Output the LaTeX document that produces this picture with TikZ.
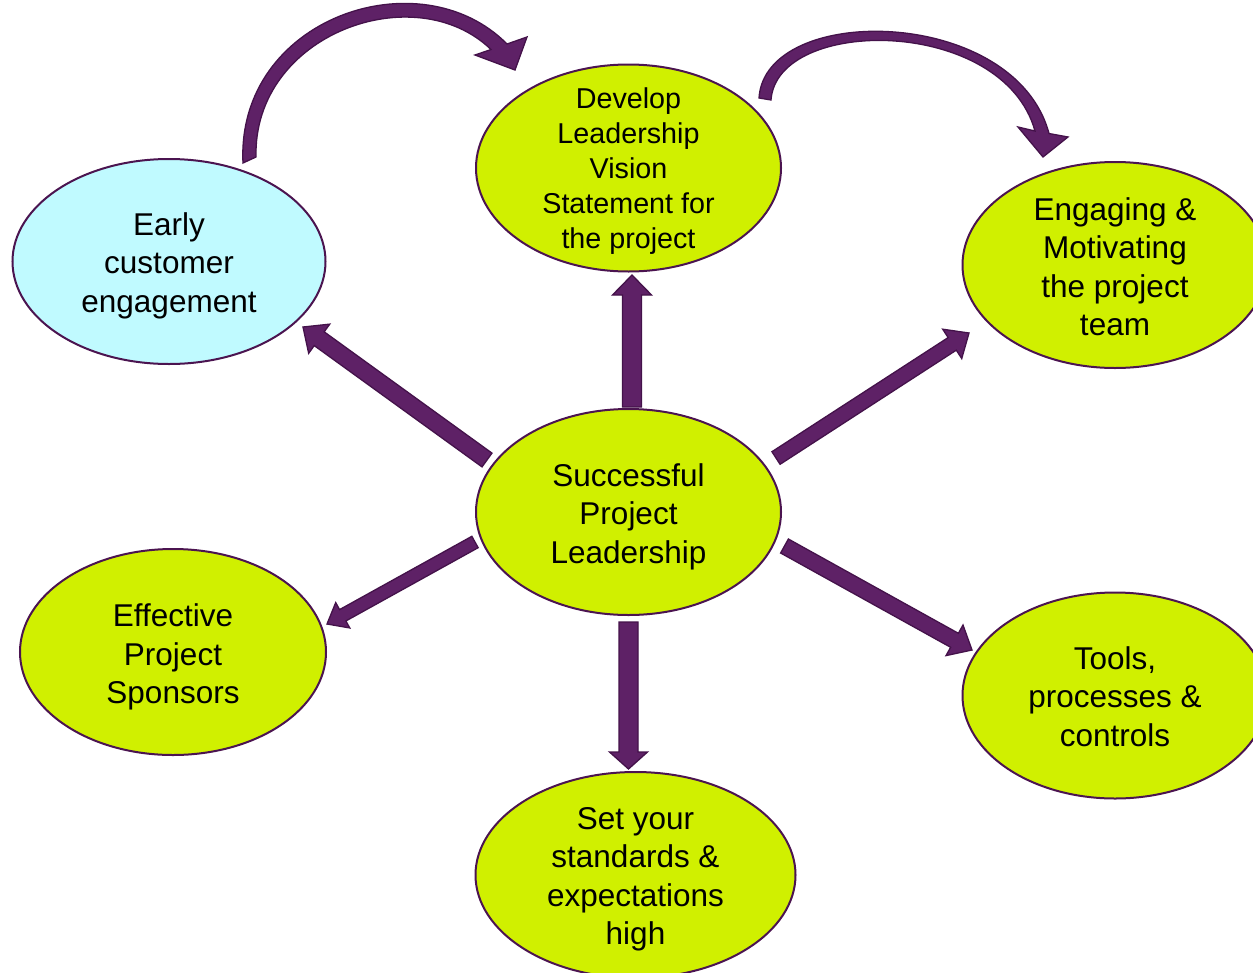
\documentclass[tikz,border=0pt]{standalone}
\usepackage{fontspec}
\setmainfont{Liberation Sans}
\usetikzlibrary{shapes.geometric,calc}
\definecolor{limefill}{RGB}{208,240,0}
\definecolor{skyfill}{RGB}{192,250,255}
\definecolor{ovaledge}{RGB}{75,20,80}
\definecolor{arrfill}{RGB}{94,33,102}
\definecolor{arredge}{RGB}{68,18,74}
\tikzset{
  oval/.style={ellipse, draw=ovaledge, line width=2pt, fill=limefill, inner sep=0pt,
    minimum width=305pt, minimum height=206pt},
  bluoval/.style={oval, fill=skyfill},
  ovaltext/.style={align=center, text=black, inner sep=0pt, font=\fontsize{31.5}{38.5}\selectfont},
  blockarrsty/.style={fill=arrfill, draw=arredge, line width=1.3pt, line join=miter},
}
\newcommand\blockarr[5]{%
  \coordinate (hb) at ($(#2)!#5!(#1)$);
  \draw[blockarrsty] ($(#1)!#3!90:(#2)$) -- ($(hb)!#3!90:(#2)$) -- ($(hb)!#4!90:(#2)$)
    -- (#2) -- ($(hb)!#4!-90:(#2)$) -- ($(hb)!#3!-90:(#2)$) -- ($(#1)!#3!-90:(#2)$) -- cycle;}
\begin{document}
\begin{tikzpicture}[x=1pt,y=-1pt]
\useasboundingbox (0,0) rectangle (1253,972);
\clip (0,0) rectangle (1253,972);
\fill[white] (0,0) rectangle (1253,972);
% nodes
\node[oval] (center) at (628.5,512) {};
\node[ovaltext, yshift=-4.5pt] (center-t) at (center) {Successful\\Project\\Leadership};
\node[oval, minimum height=207pt] (vision) at (628.5,168) {};
\node[ovaltext, yshift=-3pt, font=\fontsize{28.7}{35.2}\selectfont] (vision-t) at (vision) {Develop\\Leadership\\Vision\\Statement for\\the project};
\node[bluoval, minimum width=313pt, minimum height=205pt] (early) at (169,261.5) {};
\node[ovaltext, yshift=-4pt] (early-t) at (early) {Early\\customer\\engagement};
\node[oval] (engage) at (1115,265) {};
\node[ovaltext, yshift=-1.5pt] (engage-t) at (engage) {Engaging \&\\Motivating\\the project\\team};
\node[oval, minimum width=306pt] (sponsor) at (173,652) {};
\node[ovaltext, yshift=-5pt] (sponsor-t) at (sponsor) {Effective\\Project\\Sponsors};
\node[oval] (tools) at (1115,695.5) {};
\node[ovaltext, yshift=-1pt] (tools-t) at (tools) {Tools,\\processes \&\\controls};
\node[oval, minimum width=320pt] (standards) at (635.5,875) {};
\node[ovaltext, yshift=-4.5pt] (standards-t) at (standards) {Set your\\standards \&\\expectations\\high};
% block arrow end points
\coordinate (aUs) at (632,407);   \coordinate (aUe) at (632,275);
\coordinate (aDs) at (628.5,622); \coordinate (aDe) at (628.5,769);
\coordinate (aULs) at (487,460);  \coordinate (aULe) at (303,327);
\coordinate (aURs) at (776,458);  \coordinate (aURe) at (969,333);
\coordinate (aLLs) at (475,542);  \coordinate (aLLe) at (327,624);
\coordinate (aLRs) at (784.5,546);\coordinate (aLRe) at (972,650);
\blockarr{aUs}{aUe}{9.5pt}{19.5pt}{20pt}
\blockarr{aDs}{aDe}{9.5pt}{19pt}{17pt}
\blockarr{aULs}{aULe}{8.5pt}{18pt}{20pt}
\blockarr{aURs}{aURe}{7.5pt}{17.5pt}{20pt}
\blockarr{aLLs}{aLLe}{6.5pt}{14.5pt}{18pt}
\blockarr{aLRs}{aLRe}{8pt}{17.5pt}{20pt}
% curved arrow: early -> vision
\coordinate (c1o) at (243,163); \coordinate (c1i) at (256,157);
\coordinate (c1oe) at (507,44); \coordinate (c1ie) at (491,49.5);
\coordinate (c1h1) at (527,37); \coordinate (c1t) at (515,70); \coordinate (c1h2) at (475,55);
\draw[blockarrsty] (c1o) .. controls (236,18) and (420,-44) .. (c1oe) -- (c1h1) -- (c1t) -- (c1h2) -- (c1ie)
  .. controls (415,-24) and (253,34) .. (c1i) -- cycle;
% curved arrow: vision -> engage
\coordinate (c2o) at (759,98); \coordinate (c2i) at (771,100);
\coordinate (c2oe) at (1049,133.5); \coordinate (c2ie) at (1035,131);
\coordinate (c2h1) at (1068,137); \coordinate (c2t) at (1043,157); \coordinate (c2h2) at (1018,127);
\draw[blockarrsty] (c2o) .. controls (765,2) and (1015,6) .. (c2oe) -- (c2h1) -- (c2t) -- (c2h2) -- (c2ie)
  .. controls (1003,16) and (777,16) .. (c2i) -- cycle;
\end{tikzpicture}
\end{document}
